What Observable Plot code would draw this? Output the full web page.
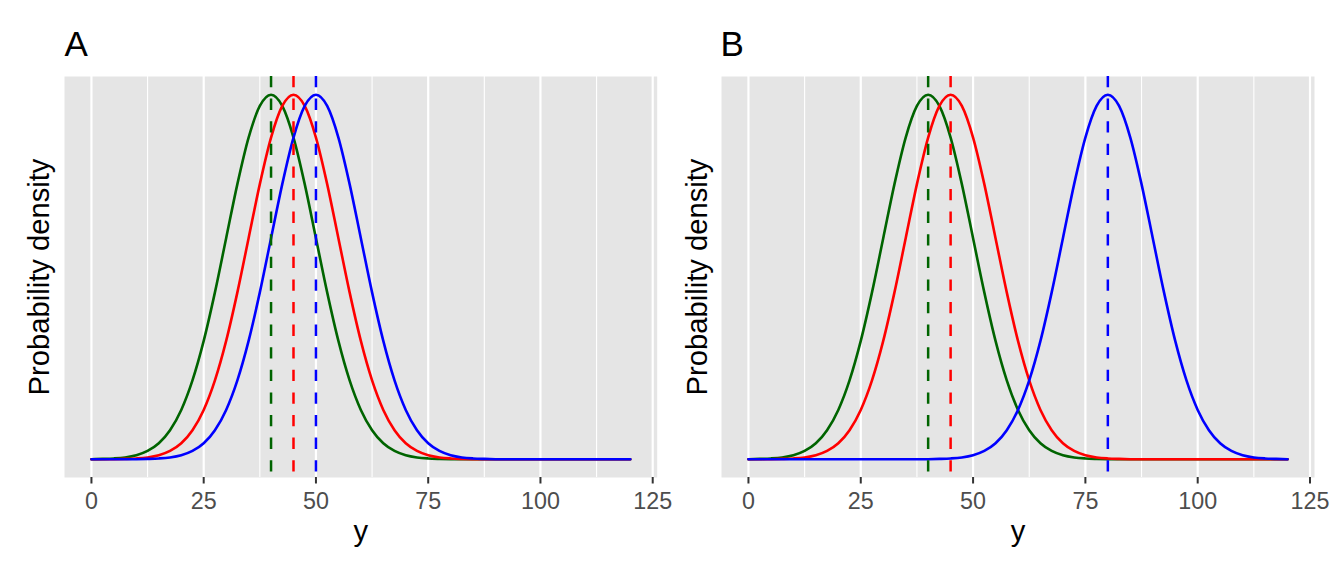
<!DOCTYPE html>
<html>
<head>
<meta charset="utf-8">
<script src="https://cdn.jsdelivr.net/npm/d3@7"></script>
<script src="https://cdn.jsdelivr.net/npm/@observablehq/plot@0.6"></script>
<style>
  html, body { margin: 0; padding: 0; background: white; }
  #wrap { display: flex; flex-direction: row; width: 1344px; height: 576px; }
</style>
</head>
<body>
<div id="wrap"></div>
<script>
// ---- data ----
const xGrid = [0, 2.5, 5, 7.5, 10, 12.5, 15, 17.5, 20, 22.5, 25, 27.5, 30, 32.5, 35, 37.5, 40, 42.5, 45, 47.5,
  50, 52.5, 55, 57.5, 60, 62.5, 65, 67.5, 70, 72.5, 75, 77.5, 80, 82.5, 85, 87.5, 90, 92.5, 95, 97.5,
  100, 102.5, 105, 107.5, 110, 112.5, 115, 117.5, 120];

const densityMean40 = [0.00001, 0.00004, 0.00009, 0.00020, 0.00044, 0.00091, 0.00175, 0.00318, 0.00540, 0.00863,
  0.01295, 0.01826, 0.02419, 0.03011, 0.03520, 0.03866, 0.03989, 0.03866, 0.03520, 0.03011,
  0.02419, 0.01826, 0.01295, 0.00863, 0.00540, 0.00318, 0.00175, 0.00091, 0.00044, 0.00020,
  0.00009, 0.00004, 0.00001, 0, 0, 0, 0, 0, 0, 0, 0, 0, 0, 0, 0, 0, 0, 0, 0];

const densityMean45 = [0, 0, 0.00001, 0.00004, 0.00009, 0.00020, 0.00044, 0.00091, 0.00175, 0.00318,
  0.00540, 0.00863, 0.01295, 0.01826, 0.02419, 0.03011, 0.03520, 0.03866, 0.03989, 0.03866,
  0.03520, 0.03011, 0.02419, 0.01826, 0.01295, 0.00863, 0.00540, 0.00318, 0.00175, 0.00091,
  0.00044, 0.00020, 0.00009, 0.00004, 0.00001, 0, 0, 0, 0, 0, 0, 0, 0, 0, 0, 0, 0, 0, 0];

const densityMean50 = [0, 0, 0, 0, 0.00001, 0.00004, 0.00009, 0.00020, 0.00044, 0.00091,
  0.00175, 0.00318, 0.00540, 0.00863, 0.01295, 0.01826, 0.02419, 0.03011, 0.03520, 0.03866,
  0.03989, 0.03866, 0.03520, 0.03011, 0.02419, 0.01826, 0.01295, 0.00863, 0.00540, 0.00318,
  0.00175, 0.00091, 0.00044, 0.00020, 0.00009, 0.00004, 0.00001, 0, 0, 0, 0, 0, 0, 0, 0, 0, 0, 0, 0];

const densityMean80 = [0, 0, 0, 0, 0, 0, 0, 0, 0, 0, 0, 0, 0, 0, 0, 0,
  0.00001, 0.00004, 0.00009, 0.00020, 0.00044, 0.00091, 0.00175, 0.00318, 0.00540, 0.00863,
  0.01295, 0.01826, 0.02419, 0.03011, 0.03520, 0.03866, 0.03989, 0.03866, 0.03520, 0.03011,
  0.02419, 0.01826, 0.01295, 0.00863, 0.00540, 0.00318, 0.00175, 0.00091, 0.00044, 0.00020,
  0.00009, 0.00004, 0.00001];

const meansA = [40, 45, 50];
const meansB = [40, 45, 80];
const seriesColors = ["darkgreen", "red", "blue"];
const panelLabels = ["A", "B"];
const xTicks = [0, 25, 50, 75, 100, 125];
const xMinorTicks = [12.5, 37.5, 62.5, 87.5, 112.5];
const xTitle = "y";
const yTitle = "Probability density";

// ---- scales (ggplot-style 5% expansion) ----
const FONT = "'Liberation Sans', Arial, Helvetica, sans-serif";
const allDens = [densityMean40, densityMean45, densityMean50, densityMean80].flat();
const [x0, x1] = d3.extent(xGrid);
const yMax = d3.max(allDens);
const xDomain = [x0 - 0.05 * (x1 - x0), x1 + 0.05 * (x1 - x0)];
const yDomain = [-0.05 * yMax, 1.05 * yMax];

function panel(label, curves, means, mL, mR, yTitleDx, labelDx) {
  const lines = curves.map((vals, k) =>
    Plot.line(vals.map((v, i) => ({y: xGrid[i], d: v})), {
      x: "y", y: "d", stroke: seriesColors[k], strokeWidth: 2.6, curve: "monotone-x"
    })
  );
  return Plot.plot({
    width: 672, height: 576,
    marginLeft: mL, marginRight: mR, marginTop: 76, marginBottom: 99,
    style: {fontFamily: FONT, fontSize: "23.3px", background: "white", color: "black", overflow: "visible"},
    x: {domain: xDomain, label: null},
    y: {domain: yDomain, axis: null},
    color: {type: "identity"},
    marks: [
      Plot.frame({fill: "#E5E5E5", stroke: null}),
      Plot.gridX(xMinorTicks, {stroke: "white", strokeOpacity: 1, strokeWidth: 1.1}),
      Plot.gridX(xTicks, {stroke: "white", strokeOpacity: 1, strokeWidth: 2.2}),
      ...lines,
      Plot.ruleX(means, {x: d => d, stroke: (d, i) => seriesColors[i], strokeWidth: 2.5, strokeDasharray: "11.3,11.3"}),
      Plot.axisX(xTicks, {tickSize: 6.5, tickPadding: 8.2, stroke: "#333333", strokeWidth: 2, fill: "#4D4D4D", fontSize: 23.3, label: null}),
      Plot.text([yTitle], {frameAnchor: "left", textAnchor: "middle", rotate: -90, dx: yTitleDx, fontSize: 29.2, fill: "black"}),
      Plot.text([xTitle], {frameAnchor: "bottom", lineAnchor: "bottom", dy: 63, fontSize: 29.2, fill: "black"}),
      Plot.text([label], {frameAnchor: "top-left", textAnchor: "start", lineAnchor: "bottom", dx: labelDx, dy: -21, fontSize: 35, fill: "black"})
    ]
  });
}

const wrap = document.getElementById("wrap");
wrap.appendChild(panel(panelLabels[0], [densityMean40, densityMean45, densityMean50], meansA, 64, 15.3, -24.9, 0));
wrap.appendChild(panel(panelLabels[1], [densityMean40, densityMean45, densityMean80], meansB, 49, 30, -23.9, -1));
</script>
</body>
</html>
